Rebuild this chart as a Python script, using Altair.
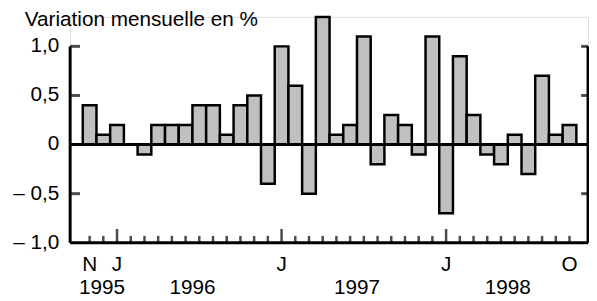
import altair as alt
import pandas as pd

# ---- data (monthly change, %), Nov 1995 .. Oct 1998
values = [0.4, 0.1, 0.2, 0.0, -0.1, 0.2, 0.2, 0.2, 0.4, 0.4, 0.1, 0.4,
          0.5, -0.4, 1.0, 0.6, -0.5, 1.3, 0.1, 0.2, 1.1, -0.2, 0.3, 0.2,
          -0.1, 1.1, -0.7, 0.9, 0.3, -0.1, -0.2, 0.1, -0.3, 0.7, 0.1, 0.2]
month_label_pos = [0, 2, 14, 26, 35]
month_label_text = ["N", "J", "J", "J", "O"]
january_pos = [2, 14, 26]
year_label_text = ["1995", "1996", "1997", "1998"]
year_label_pos = [0.9, 7.5, 19.5, 30.5]
ytick_vals = [-1.0, -0.5, 0.0, 0.5, 1.0]
ytick_text = ["\u2013\u00a01,0", "\u2013\u00a00,5", "0", "0,5", "1,0"]
inner_ticks = [-0.5, 0.5, 1.0]
title_text = "Variation mensuelle en %"

FONT = "Liberation Sans"
FS = 21
XMIN, XMAX = -1.42, 36.35
YMIN, YMAX = -1.0, 1.3

df = pd.DataFrame({"i": list(range(len(values))), "v": values})
df["x0"] = df["i"] - 0.5
df["x1"] = df["i"] + 0.5
df["long"] = df["i"].isin(january_pos)

xs = alt.Scale(domain=[XMIN, XMAX], nice=False, zero=False)
ys = alt.Scale(domain=[YMIN, YMAX], nice=False, zero=False)

bars = alt.Chart(df).mark_bar(fill="#c0c0c0", stroke="black", strokeWidth=2.5).encode(
    x=alt.X("x0:Q", scale=xs, axis=None),
    x2="x1:Q",
    y=alt.Y("v:Q", scale=ys, axis=None),
    y2=alt.datum(0),
)

ylab = alt.Chart(pd.DataFrame({"y": ytick_vals, "t": ytick_text})).mark_text(
    font=FONT, fontSize=FS, color="black", align="right", baseline="middle", dx=-11).encode(
    x=alt.datum(XMIN), y=alt.Y("y:Q", scale=ys), text="t:N")

zero = alt.Chart(pd.DataFrame({"y": [0.0]})).mark_rule(color="black", strokeWidth=3).encode(
    y=alt.Y("y:Q", scale=ys))

frame_df = pd.DataFrame({"x": [XMIN, XMAX], "ya": [min(ytick_vals)] * 2, "yb": [max(ytick_vals)] * 2})
sides = alt.Chart(frame_df).mark_rule(color="black", strokeWidth=3).encode(
    x=alt.X("x:Q", scale=xs), y=alt.Y("ya:Q", scale=ys), y2="yb:Q")
bottom = alt.Chart(pd.DataFrame({"y": [min(ytick_vals)]})).mark_rule(color="black", strokeWidth=3).encode(
    y=alt.Y("y:Q", scale=ys))

short_ticks = alt.Chart(df[~df["long"]]).mark_tick(
    orient="vertical", size=7, thickness=2.5, color="black", yOffset=-3.5).encode(
    x=alt.X("i:Q", scale=xs), y=alt.datum(min(ytick_vals)))
long_ticks = alt.Chart(df[df["long"]]).mark_tick(
    orient="vertical", size=14, thickness=2.5, color="black", yOffset=-7).encode(
    x=alt.X("i:Q", scale=xs), y=alt.datum(min(ytick_vals)))

it = pd.DataFrame({"y": inner_ticks})
left_ticks = alt.Chart(it).mark_tick(
    orient="horizontal", size=10, thickness=3, color="black", xOffset=5).encode(
    x=alt.datum(XMIN), y=alt.Y("y:Q", scale=ys))
right_ticks = alt.Chart(it).mark_tick(
    orient="horizontal", size=7, thickness=3, color="black", xOffset=-3.5).encode(
    x=alt.datum(XMAX), y=alt.Y("y:Q", scale=ys))

mdf = pd.DataFrame({"x": month_label_pos, "t": month_label_text})
months = alt.Chart(mdf).mark_text(
    font=FONT, fontSize=FS, color="black", baseline="alphabetic", dy=29).encode(
    x=alt.X("x:Q", scale=xs), y=alt.datum(min(ytick_vals)), text="t:N")

ydf = pd.DataFrame({"x": year_label_pos, "t": year_label_text})
years = alt.Chart(ydf).mark_text(
    font=FONT, fontSize=FS, color="black", baseline="alphabetic", dy=52).encode(
    x=alt.X("x:Q", scale=xs), y=alt.datum(min(ytick_vals)), text="t:N")

title = alt.Chart(pd.DataFrame({"t": [title_text]})).mark_text(
    font=FONT, fontSize=FS, color="black", baseline="alphabetic", align="left").encode(
    x=alt.value(-46), y=alt.value(9), text="t:N")

chart = alt.layer(
    bars, zero, sides, bottom, short_ticks, long_ticks, left_ticks, right_ticks,
    ylab, months, years, title
).properties(
    width=525, height=229,
    autosize=alt.AutoSizeParams(type="none"),
    padding={"left": 63, "top": 7, "right": 1, "bottom": 57},
).configure_view(stroke=None).configure(background="white")

chart.save("out.html", embed_options={"renderer": "svg", "actions": False})
